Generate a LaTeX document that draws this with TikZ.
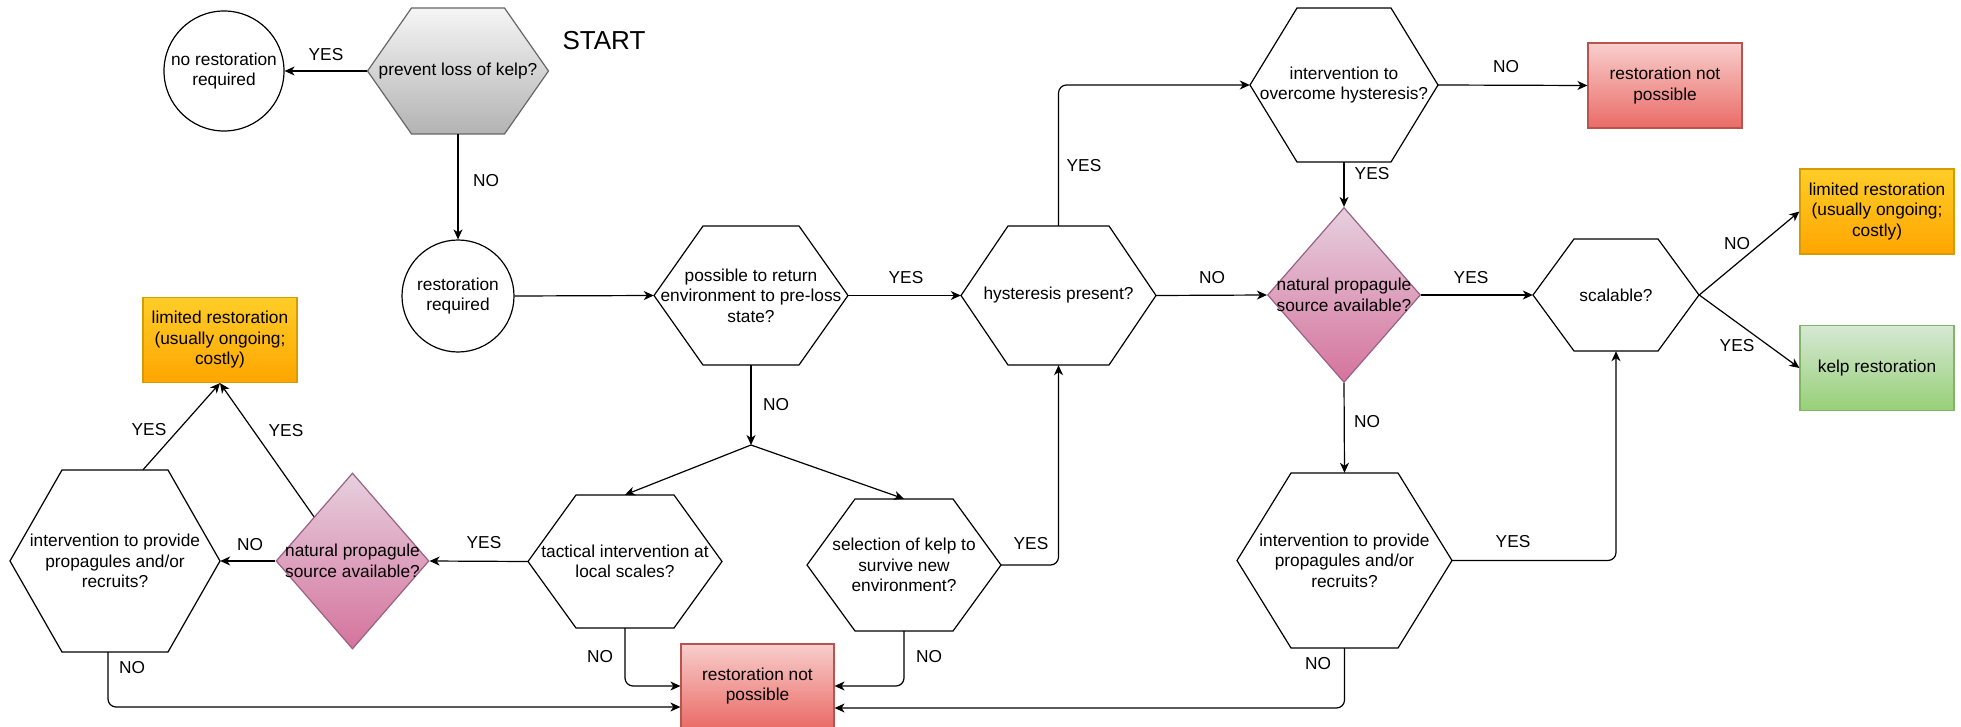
\documentclass[tikz,border=0pt]{standalone}
\usepackage{fontspec}
\setmainfont{Liberation Sans}
\usetikzlibrary{shapes.geometric,arrows.meta}
\definecolor{grayA}{HTML}{F5F5F5}\definecolor{grayB}{HTML}{B3B3B3}\definecolor{grayS}{HTML}{666666}
\definecolor{pinkA}{HTML}{E6D0DE}\definecolor{pinkB}{HTML}{D5739D}\definecolor{pinkS}{HTML}{996185}
\definecolor{redA}{HTML}{F8CECC}\definecolor{redB}{HTML}{EA6B66}\definecolor{redS}{HTML}{B85450}
\definecolor{orA}{HTML}{FFCD28}\definecolor{orB}{HTML}{FFA500}\definecolor{orS}{HTML}{D79B00}
\definecolor{grA}{HTML}{D5E8D4}\definecolor{grB}{HTML}{97D077}\definecolor{grS}{HTML}{82B366}
% opt style, name, cx, cy, w, h, inset, text
\newcommand{\hexnode}[8][]{%
  \draw[hexline,#1] ({#3-#5/2},#4) -- ({#3-#5/2+#7},{#4-#6/2}) -- ({#3+#5/2-#7},{#4-#6/2})
     -- ({#3+#5/2},#4) -- ({#3+#5/2-#7},{#4+#6/2}) -- ({#3-#5/2+#7},{#4+#6/2}) -- cycle;
  \node[hexbox, minimum width=#5, minimum height=#6] (#2) at (#3,#4) {#8};
}
\begin{document}
\begin{tikzpicture}[x=1pt,y=-1pt,
  txt/.style={font=\fontsize{17.3}{20.5}\selectfont, align=center, inner sep=0pt},
  hexline/.style={draw=black, line width=1.2pt, line join=miter},
  hexbox/.style={txt, rectangle, draw=none},
  circ/.style={txt, circle, draw=black, line width=1.2pt},
  dia/.style={diamond, inner sep=0pt, line width=1.2pt, draw=pinkS, top color=pinkA, bottom color=pinkB},
  box/.style={txt, rectangle, minimum width=154, minimum height=85, line width=1.2pt},
  redbox/.style={box, draw=redS, top color=redA, bottom color=redB},
  orbox/.style={box, draw=orS, top color=orA, bottom color=orB},
  grbox/.style={box, draw=grS, top color=grA, bottom color=grB},
  lbl/.style={txt},
  arr/.style={-{Stealth[length=10pt,width=9pt,inset=3pt]}, line width=1.2pt, rounded corners=8pt},
]
\useasboundingbox (0,0) rectangle (1961,727);

% nodes
\node[circ, minimum size=120] (noreq) at (224,71) {no restoration\\required};
\hexnode[draw=grayS, top color=grayA, bottom color=grayB]{prevent}{458}{71}{181}{126}{44}{prevent loss of kelp?}
\node[font=\fontsize{26}{30}\selectfont, inner sep=0pt] (start) at (604,41) {START};
\node[circ, minimum size=112] (resreq) at (458,296) {restoration\\required};
\hexnode{possible}{751}{295.5}{194}{139}{49}{possible to return\\environment to pre-loss\\state?}
\hexnode{hyst}{1058.5}{295.5}{195}{139}{47}{hysteresis present?}
\hexnode{intHyst}{1344}{85}{188}{154}{47}{intervention to\\overcome hysteresis?}
\node[redbox] (redtop) at (1665,85.5) {restoration not\\possible};
\node[dia, minimum width=153, minimum height=175,
  label={[txt]center:{natural propagule\\source available?}}] (diamR) at (1344,295) {};
\hexnode{scal}{1616}{295}{166}{112}{41}{scalable?}
\node[orbox] (limR) at (1877,211.5) {limited restoration\\(usually ongoing;\\costly)};
\node[grbox] (kelp) at (1877,368) {kelp restoration};
\hexnode{intR}{1344.5}{560.5}{215}{175}{54}{intervention to provide\\propagules and/or\\recruits?}
\hexnode{sel}{904}{565}{194}{132}{48}{selection of kelp to\\survive new\\environment?}
\hexnode{tact}{625}{561.5}{194}{133}{48}{tactical intervention at\\local scales?}
\node[dia, minimum width=153, minimum height=176,
  label={[txt]center:{natural propagule\\source available?}}] (diamL) at (352.5,561) {};
\hexnode{intL}{115}{561}{210}{182}{52}{intervention to provide\\propagules and/or\\recruits?}
\node[orbox] (limL) at (220,340) {limited restoration\\(usually ongoing;\\costly)};
\node[redbox, minimum width=153, minimum height=84] (resnp) at (757.5,686) {restoration not\\possible};
\coordinate (split) at (751,445);

% connectors
\draw[arr] (prevent.west) -- (noreq.east);
\draw[arr] (prevent.south) -- (resreq.north);
\draw[arr] (resreq.east) -- (possible.west);
\draw[arr] (possible.east) -- (hyst.west);
\draw[arr] (hyst.north) |- (intHyst.west);
\draw[arr] (intHyst.east) -- (redtop.west);
\draw[arr] (intHyst.south) -- (diamR.north);
\draw[arr] (hyst.east) -- (diamR.west);
\draw[arr] (diamR.east) -- (scal.west);
\draw[arr] (scal.east) -- (limR.west);
\draw[arr] (scal.east) -- (kelp.west);
\draw[arr] (diamR.south) -- (intR.north);
\draw[arr] (intR.east) -| (scal.south);
\draw[arr] (intR.south) |- ([yshift=-22pt]resnp.east);
\draw[arr] (possible.south) -- (split);
\draw[arr] (split) -- (tact.north);
\draw[arr] (split) -- (sel.north);
\draw[arr] (sel.east) -| (hyst.south);
\draw[arr] (sel.south) |- (resnp.east);
\draw[arr] (tact.south) |- (resnp.west);
\draw[arr] (tact.west) -- (diamL.east);
\draw[arr] (diamL.west) -- (intL.east);
\draw[arr] (diamL.north west) -- (limL.south);
\draw[arr] ([xshift=28pt]intL.north) -- (limL.south);
\draw[arr] ([xshift=-7pt]intL.south) |- ([yshift=-21pt]resnp.west);

% labels
\node[lbl] (l1) at (326,55) {YES};
\node[lbl] (l2) at (486,181) {NO};
\node[lbl] (l3) at (906,278) {YES};
\node[lbl] (l4) at (1084,166) {YES};
\node[lbl] (l5) at (1506,67) {NO};
\node[lbl] (l6) at (1372,174) {YES};
\node[lbl] (l7) at (1212,278) {NO};
\node[lbl] (l8) at (1471,278) {YES};
\node[lbl] (l9) at (1737,244) {NO};
\node[lbl] (l10) at (1737,346) {YES};
\node[lbl] (l11) at (1367,422) {NO};
\node[lbl] (l12) at (1513,542) {YES};
\node[lbl] (l13) at (1318,664) {NO};
\node[lbl] (l14) at (776,405) {NO};
\node[lbl] (l15) at (1031,544) {YES};
\node[lbl] (l16) at (929,657) {NO};
\node[lbl] (l17) at (600,657) {NO};
\node[lbl] (l18) at (484,543) {YES};
\node[lbl] (l19) at (250,545) {NO};
\node[lbl] (l20) at (286,431) {YES};
\node[lbl] (l21) at (149,430) {YES};
\node[lbl] (l22) at (132,668) {NO};
\end{tikzpicture}
\end{document}
